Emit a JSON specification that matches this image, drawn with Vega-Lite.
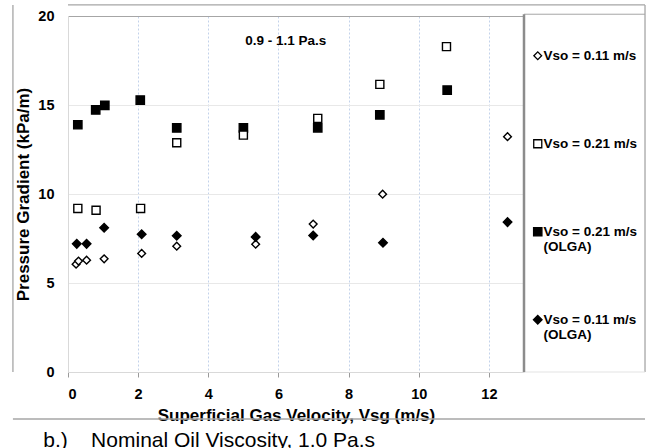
{
  "$schema": "https://vega.github.io/schema/vega-lite/v6.json",
  "width": 456,
  "height": 356,
  "autosize": {"type": "none"},
  "padding": {"left": 68, "top": 16, "right": 126, "bottom": 76},
  "background": "white",
  "config": {
    "view": {"stroke": null},
    "font": "Liberation Sans",
    "legend": {
      "orient": "none",
      "legendX": 463,
      "legendY": 33,
      "padding": 0,
      "labelFont": "Liberation Sans",
      "labelFontSize": 13.5,
      "labelFontWeight": "bold",
      "labelColor": "black",
      "labelOffset": -1,
      "labelLimit": 200,
      "rowPadding": 58,
      "symbolStrokeWidth": 1.3
    }
  },
  "title": {
    "text": "b.)\u00a0\u00a0\u00a0 Nominal Oil Viscosity, 1.0 Pa.s",
    "orient": "bottom",
    "anchor": "start",
    "font": "Liberation Sans",
    "fontSize": 21,
    "fontWeight": "normal",
    "color": "black",
    "dx": 31,
    "offset": 6
  },
  "layer": [
    {
      "data": {"values": [{"edge": "left"}]},
      "mark": {"type": "rule", "stroke": "#a6a6a6", "strokeWidth": 1.3},
      "encoding": {
        "x": {"datum": -1.57, "type": "quantitative", "scale": {"domain": [0, 13], "nice": false}},
        "y": {"datum": 20.62, "type": "quantitative", "scale": {"domain": [0, 20], "nice": false}},
        "y2": {"datum": 0}
      }
    },
    {
      "data": {"values": [{"edge": "right"}]},
      "mark": {"type": "rule", "stroke": "#a6a6a6", "strokeWidth": 1.3},
      "encoding": {
        "x": {"datum": 16.45, "type": "quantitative"},
        "y": {"datum": 20.62, "type": "quantitative"},
        "y2": {"datum": 0}
      }
    },
    {
      "data": {"values": [{"edge": "top"}]},
      "mark": {"type": "rule", "stroke": "#a6a6a6", "strokeWidth": 1.3},
      "encoding": {
        "x": {"datum": 0, "type": "quantitative"},
        "x2": {"datum": 16.45},
        "y": {"datum": 20.62, "type": "quantitative"}
      }
    },
    {
      "data": {"values": [{"edge": "bottom"}]},
      "mark": {"type": "rule", "stroke": "#a6a6a6", "strokeWidth": 1.3},
      "encoding": {
        "x": {"datum": -1.57, "type": "quantitative"},
        "x2": {"datum": 16.45},
        "y": {"datum": -2.64, "type": "quantitative"}
      }
    },
    {
      "data": {"values": [{"edge": "legendtop"}]},
      "mark": {"type": "rule", "stroke": "#a6a6a6", "strokeWidth": 1},
      "encoding": {
        "x": {"datum": 13, "type": "quantitative"},
        "x2": {"datum": 16.45},
        "y": {"datum": 20.1, "type": "quantitative"}
      }
    },
    {
      "data": {"values": [{"edge": "legendbottom"}]},
      "mark": {"type": "rule", "stroke": "#e3e3e3", "strokeWidth": 1},
      "encoding": {
        "x": {"datum": 13, "type": "quantitative"},
        "x2": {"datum": 16.45},
        "y": {"datum": 0, "type": "quantitative"}
      }
    },
    {
      "data": {"values": [{"lx": 6.21, "ly": 18.6, "note": "0.9 - 1.1 Pa.s"}]},
      "mark": {"type": "text", "font": "Liberation Sans", "fontSize": 13.5, "fontWeight": "bold", "color": "black"},
      "encoding": {
        "x": {"field": "lx", "type": "quantitative"},
        "y": {"field": "ly", "type": "quantitative"},
        "text": {"field": "note"}
      }
    },
    {
      "data": {
        "values": [
          {"vsg": 0.23, "dp": 6.06, "series": "Vso = 0.11 m/s"},
          {"vsg": 0.30, "dp": 6.23, "series": "Vso = 0.11 m/s"},
          {"vsg": 0.53, "dp": 6.28, "series": "Vso = 0.11 m/s"},
          {"vsg": 1.03, "dp": 6.36, "series": "Vso = 0.11 m/s"},
          {"vsg": 2.10, "dp": 6.66, "series": "Vso = 0.11 m/s"},
          {"vsg": 3.10, "dp": 7.07, "series": "Vso = 0.11 m/s"},
          {"vsg": 5.35, "dp": 7.18, "series": "Vso = 0.11 m/s"},
          {"vsg": 6.99, "dp": 8.31, "series": "Vso = 0.11 m/s"},
          {"vsg": 8.97, "dp": 9.99, "series": "Vso = 0.11 m/s"},
          {"vsg": 12.53, "dp": 13.22, "series": "Vso = 0.11 m/s"},
          {"vsg": 0.25, "dp": 7.20, "series": "Vso = 0.11 m/s (OLGA)"},
          {"vsg": 0.53, "dp": 7.20, "series": "Vso = 0.11 m/s (OLGA)"},
          {"vsg": 1.03, "dp": 8.10, "series": "Vso = 0.11 m/s (OLGA)"},
          {"vsg": 2.10, "dp": 7.74, "series": "Vso = 0.11 m/s (OLGA)"},
          {"vsg": 3.10, "dp": 7.65, "series": "Vso = 0.11 m/s (OLGA)"},
          {"vsg": 5.35, "dp": 7.59, "series": "Vso = 0.11 m/s (OLGA)"},
          {"vsg": 6.99, "dp": 7.67, "series": "Vso = 0.11 m/s (OLGA)"},
          {"vsg": 8.98, "dp": 7.26, "series": "Vso = 0.11 m/s (OLGA)"},
          {"vsg": 12.53, "dp": 8.42, "series": "Vso = 0.11 m/s (OLGA)"},
          {"vsg": 0.28, "dp": 13.89, "series": "Vso = 0.21 m/s (OLGA)"},
          {"vsg": 0.79, "dp": 14.72, "series": "Vso = 0.21 m/s (OLGA)"},
          {"vsg": 1.05, "dp": 14.98, "series": "Vso = 0.21 m/s (OLGA)"},
          {"vsg": 2.06, "dp": 15.28, "series": "Vso = 0.21 m/s (OLGA)"},
          {"vsg": 3.10, "dp": 13.71, "series": "Vso = 0.21 m/s (OLGA)"},
          {"vsg": 5.00, "dp": 13.72, "series": "Vso = 0.21 m/s (OLGA)"},
          {"vsg": 7.12, "dp": 13.72, "series": "Vso = 0.21 m/s (OLGA)"},
          {"vsg": 8.89, "dp": 14.44, "series": "Vso = 0.21 m/s (OLGA)"},
          {"vsg": 10.81, "dp": 15.84, "series": "Vso = 0.21 m/s (OLGA)"},
          {"vsg": 0.28, "dp": 9.19, "series": "Vso = 0.21 m/s"},
          {"vsg": 0.80, "dp": 9.09, "series": "Vso = 0.21 m/s"},
          {"vsg": 2.07, "dp": 9.19, "series": "Vso = 0.21 m/s"},
          {"vsg": 3.10, "dp": 12.88, "series": "Vso = 0.21 m/s"},
          {"vsg": 5.00, "dp": 13.31, "series": "Vso = 0.21 m/s"},
          {"vsg": 7.12, "dp": 14.25, "series": "Vso = 0.21 m/s"},
          {"vsg": 8.89, "dp": 16.16, "series": "Vso = 0.21 m/s"},
          {"vsg": 10.79, "dp": 18.28, "series": "Vso = 0.21 m/s"}
        ]
      },
      "mark": {"type": "point", "strokeWidth": 1.4, "opacity": 1},
      "encoding": {
        "x": {
          "field": "vsg",
          "type": "quantitative",
          "scale": {"domain": [0, 13], "nice": false},
          "axis": {
            "title": "Superficial Gas Velocity, Vsg (m/s)",
            "values": [0, 2, 4, 6, 8, 10, 12],
            "grid": true,
            "gridColor": "#c3d2ea",
            "gridDash": [2, 2],
            "gridOpacity": {"condition": {"test": "datum.value == 0", "value": 0}, "value": 1},
            "domainColor": "#d9d9d9",
            "tickColor": "#9a9a9a",
            "tickSize": 5,
            "labelFont": "Liberation Sans",
            "labelFontSize": 14.5,
            "labelFontWeight": "bold",
            "labelColor": "black",
            "labelPadding": 10,
            "titleFont": "Liberation Sans",
            "titleFontSize": 17,
            "titleFontWeight": "bold",
            "titleColor": "black",
            "titlePadding": 7
          }
        },
        "y": {
          "field": "dp",
          "type": "quantitative",
          "scale": {"domain": [0, 20], "nice": false},
          "axis": {
            "title": "Pressure Gradient (kPa/m)",
            "values": [0, 5, 10, 15, 20],
            "grid": true,
            "gridColor": {"condition": {"test": "datum.value == 20", "value": "#a6a6a6"}, "value": "#e8e8e8"},
            "domainColor": "#d9d9d9",
            "ticks": false,
            "labelFont": "Liberation Sans",
            "labelFontSize": 14.5,
            "labelFontWeight": "bold",
            "labelColor": "black",
            "labelPadding": 14,
            "titleFont": "Liberation Sans",
            "titleFontSize": 17,
            "titleFontWeight": "bold",
            "titleColor": "black",
            "titlePadding": 5
          }
        },
        "shape": {
          "field": "series",
          "type": "nominal",
          "title": null,
          "scale": {
            "domain": ["Vso = 0.11 m/s", "Vso = 0.21 m/s", "Vso = 0.21 m/s (OLGA)", "Vso = 0.11 m/s (OLGA)"],
            "range": ["diamond", "square", "square", "diamond"]
          },
          "legend": {
            "labelExpr": "indexof(datum.label, ' (OLGA)') > 0 ? [replace(datum.label, ' (OLGA)', ''), '(OLGA)'] : [datum.label, ' ']",
            "encode": {"labels": {"update": {"lineHeight": {"value": 14}}}}
          }
        },
        "fill": {
          "field": "series",
          "type": "nominal",
          "title": null,
          "scale": {
            "domain": ["Vso = 0.11 m/s", "Vso = 0.21 m/s", "Vso = 0.21 m/s (OLGA)", "Vso = 0.11 m/s (OLGA)"],
            "range": ["white", "white", "black", "black"]
          }
        },
        "stroke": {
          "field": "series",
          "type": "nominal",
          "title": null,
          "scale": {
            "domain": ["Vso = 0.11 m/s", "Vso = 0.21 m/s", "Vso = 0.21 m/s (OLGA)", "Vso = 0.11 m/s (OLGA)"],
            "range": ["black", "black", "black", "black"]
          }
        },
        "size": {
          "field": "series",
          "type": "nominal",
          "title": null,
          "scale": {
            "domain": ["Vso = 0.11 m/s", "Vso = 0.21 m/s", "Vso = 0.21 m/s (OLGA)", "Vso = 0.11 m/s (OLGA)"],
            "range": [60, 74, 92, 70]
          }
        }
      }
    },
    {
      "data": {"values": [{"edge": "plotright"}]},
      "mark": {"type": "rule", "stroke": "#8c8c8c", "strokeWidth": 2.5},
      "encoding": {
        "x": {"datum": 13, "type": "quantitative"},
        "y": {"datum": 20.1, "type": "quantitative"},
        "y2": {"datum": 0}
      }
    }
  ]
}
